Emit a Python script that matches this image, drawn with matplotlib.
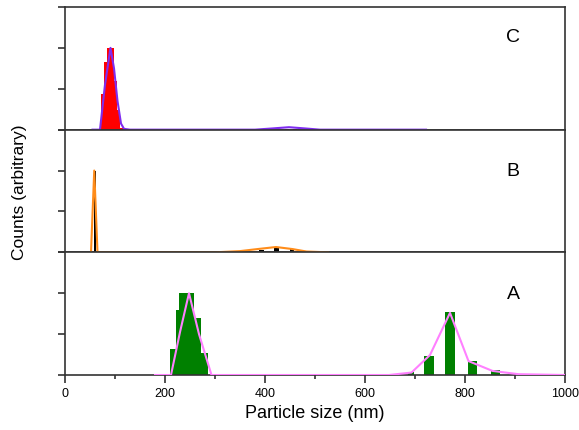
import matplotlib
matplotlib.use("Agg")
import matplotlib.pyplot as plt
import numpy as np

plt.rcParams['font.family'] = ['Liberation Sans', 'DejaVu Sans']

# ---------- Panel A (green histogram, pink fit) ----------
a_bar_left = [210, 221, 228, 243, 258, 272, 685, 718, 759, 805, 852]
a_bar_width = [11, 7, 15, 15, 14, 14, 13, 19, 21, 19, 18]
a_bar_height = [0.63, 1.58, 2.0, 2.0, 1.39, 0.53, 0.07, 0.47, 1.53, 0.34, 0.12]
a_line_x = [180, 212, 230, 248, 268, 293, 648, 693, 730, 770, 807, 855, 907, 1000]
a_line_y = [0, 0, 1.05, 2.0, 1.0, 0, 0, 0.06, 0.49, 1.52, 0.34, 0.1, 0.02, 0]

# ---------- Panel B (black histogram, orange fit) ----------
b_bar_left = [58, 388, 417, 449]
b_bar_width = [3, 9, 10, 9]
b_bar_height = [2.0, 0.06, 0.105, 0.07]
b_line_x = [52, 58.5, 65, 300, 350, 385, 422, 455, 483, 526]
b_line_y = [0, 2.0, 0, 0, 0.03, 0.08, 0.13, 0.08, 0.02, 0]

# ---------- Panel C (red histogram, purple fit) ----------
c_bar_left = [71.5, 78, 84.5, 91, 97.5, 104, 110.5, 440, 455]
c_bar_width = [6.5, 6.5, 6.5, 6.5, 6.5, 6.5, 6.5, 8, 8]
c_bar_height = [0.87, 1.65, 2.0, 2.0, 1.2, 0.49, 0.05, 0.02, 0.02]
c_line_x = [55, 70, 80, 91, 98, 105, 112, 118, 130, 380, 415, 448, 480, 510, 722]
c_line_y = [0, 0, 1.1, 2.0, 1.5, 0.7, 0.15, 0.02, 0, 0, 0.03, 0.06, 0.03, 0, 0]

panels = [
    ("C", c_bar_left, c_bar_width, c_bar_height, "#ff0000", c_line_x, c_line_y, "#7f2cf0"),
    ("B", b_bar_left, b_bar_width, b_bar_height, "#000000", b_line_x, b_line_y, "#ff8c1a"),
    ("A", a_bar_left, a_bar_width, a_bar_height, "#008000", a_line_x, a_line_y, "#ff80ff"),
]

fig = plt.figure(figsize=(5.79, 4.31), dpi=100)
left, right = 65 / 579, 565 / 579
top, bottom = 1 - 8 / 431, 1 - 376 / 431
h = (top - bottom) / 3

for i, (name, bl, bw, bh, bc, lx, ly, lc) in enumerate(panels):
    ax = fig.add_axes([left, top - (i + 1) * h, right - left, h])
    ax.bar(bl, bh, width=bw, align="edge", color=bc, edgecolor="none", zorder=2)
    ax.plot(lx, ly, color=lc, lw=1.5, zorder=3)
    ax.set_xlim(0, 1000)
    ax.set_ylim(0, 3)
    ax.set_yticks([0, 1, 2, 3])
    ax.set_yticklabels([])
    ax.tick_params(axis="y", direction="out", length=5, width=1.2, color="#333333")
    for s in ax.spines.values():
        s.set_linewidth(1.2)
        s.set_color("#333333")
    ax.text(896, 2.0 if name != "C" else 2.27, name, fontsize=14,
            ha="center", va="center")
    if name != "A":
        ax.set_xticks([])
    else:
        ax.set_xticks(np.arange(0, 1001, 200))
        ax.set_xticks(np.arange(100, 1000, 200), minor=True)
        ax.tick_params(axis="x", which="major", direction="out", length=6,
                       width=1.2, color="#333333", labelsize=9, pad=3)
        ax.tick_params(axis="x", which="minor", direction="out", length=3,
                       width=1.2, color="#333333")
        ax.set_xlabel("Particle size (nm)", fontsize=13, labelpad=3)

fig.text(0.033, (top + bottom) / 2, "Counts (arbitrary)", rotation=90,
         fontsize=12.5, ha="center", va="center")

fig.savefig("out.png", dpi=100)
